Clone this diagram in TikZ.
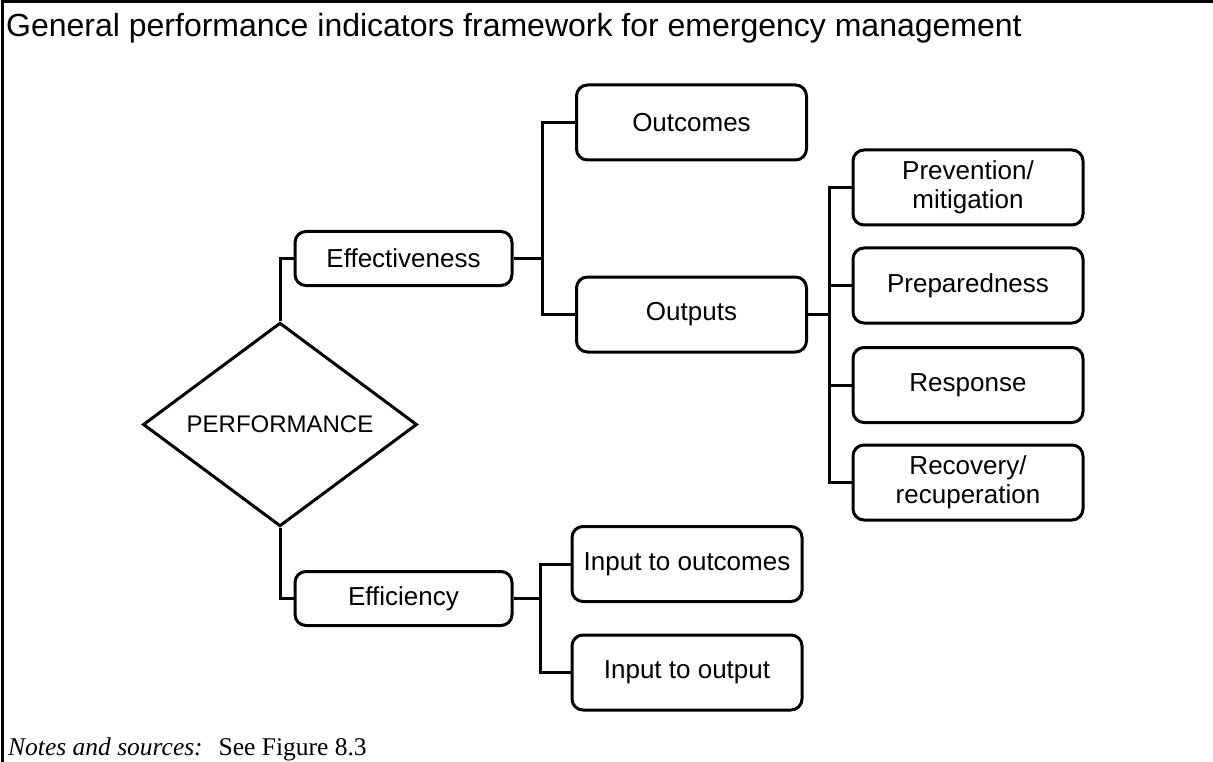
\documentclass[tikz,border=0pt]{standalone}
\usepackage{fontspec}
\setmainfont{Liberation Sans}
\newfontfamily\notesfont{Liberation Serif}
\usetikzlibrary{shapes.geometric}
\tikzset{box/.style={draw, line width=3pt, rounded corners=11pt, minimum width=230pt, minimum height=75pt, align=center, inner sep=2pt, font=\fontsize{26}{29}\selectfont}, smallbox/.style={box, minimum width=217pt, minimum height=54pt}, decision/.style={draw, diamond, line width=3pt, minimum width=274pt, minimum height=151pt, inner sep=0pt, font=\fontsize{24}{28}\selectfont}, link/.style={line width=3pt}}

\begin{document}
\begin{tikzpicture}[x=1pt,y=-1pt]
\useasboundingbox (0,0) rectangle (1213,762);
% frame and texts
\draw[line width=3pt] (2,762) -- (2,2) -- (1213,2);
\node[anchor=west, inner sep=0pt, font=\fontsize{32}{38}\selectfont] (title) at (6,28) {General performance indicators framework for emergency management};
\node[anchor=base west, inner sep=0pt, font=\notesfont\fontsize{25.5}{30}\selectfont] (notes) at (8,755) {\textit{Notes and sources:}\hspace{16pt}See Figure 8.3};
% performance
\node[decision] (perf) at (280,424.5) {PERFORMANCE};
\node[smallbox] (effect) at (403.5,258.5) {Effectiveness};
\node[smallbox] (effic) at (403.5,598.5) {Efficiency};
\node[box] (outcomes) at (691.5,122.5) {Outcomes};
\node[box] (outputs) at (691.5,314.5) {Outputs};
\node[box] (prevent) at (968,187.5) {Prevention/\\mitigation};
\node[box] (prepare) at (968,285.5) {Preparedness};
\node[box] (respond) at (968,385) {Response};
\node[box] (recover) at (968,482.5) {Recovery/\\recuperation};
\node[box] (inoutc) at (687,564) {Input to outcomes};
\node[box] (inoutp) at (687,672.5) {Input to output};
% connectors
\coordinate (jeff) at (542,258.5);
\coordinate (jout) at (829,314.5);
\coordinate (jeffic) at (540,598.5);
\draw[link] (perf.north) |- (effect.west);
\draw[link] (perf.south) |- (effic.west);
\draw[link] (effect.east) -- (jeff);
\draw[link] (outcomes.west) -| (jeff) |- (outputs.west);
\draw[link] (outputs.east) -- (jout);
\draw[link] (prevent.west) -| (jout) |- (recover.west);
\draw[link] (jout |- prepare.west) -- (prepare.west);
\draw[link] (jout |- respond.west) -- (respond.west);
\draw[link] (effic.east) -- (jeffic);
\draw[link] (inoutc.west) -| (jeffic) |- (inoutp.west);
\end{tikzpicture}
\end{document}
